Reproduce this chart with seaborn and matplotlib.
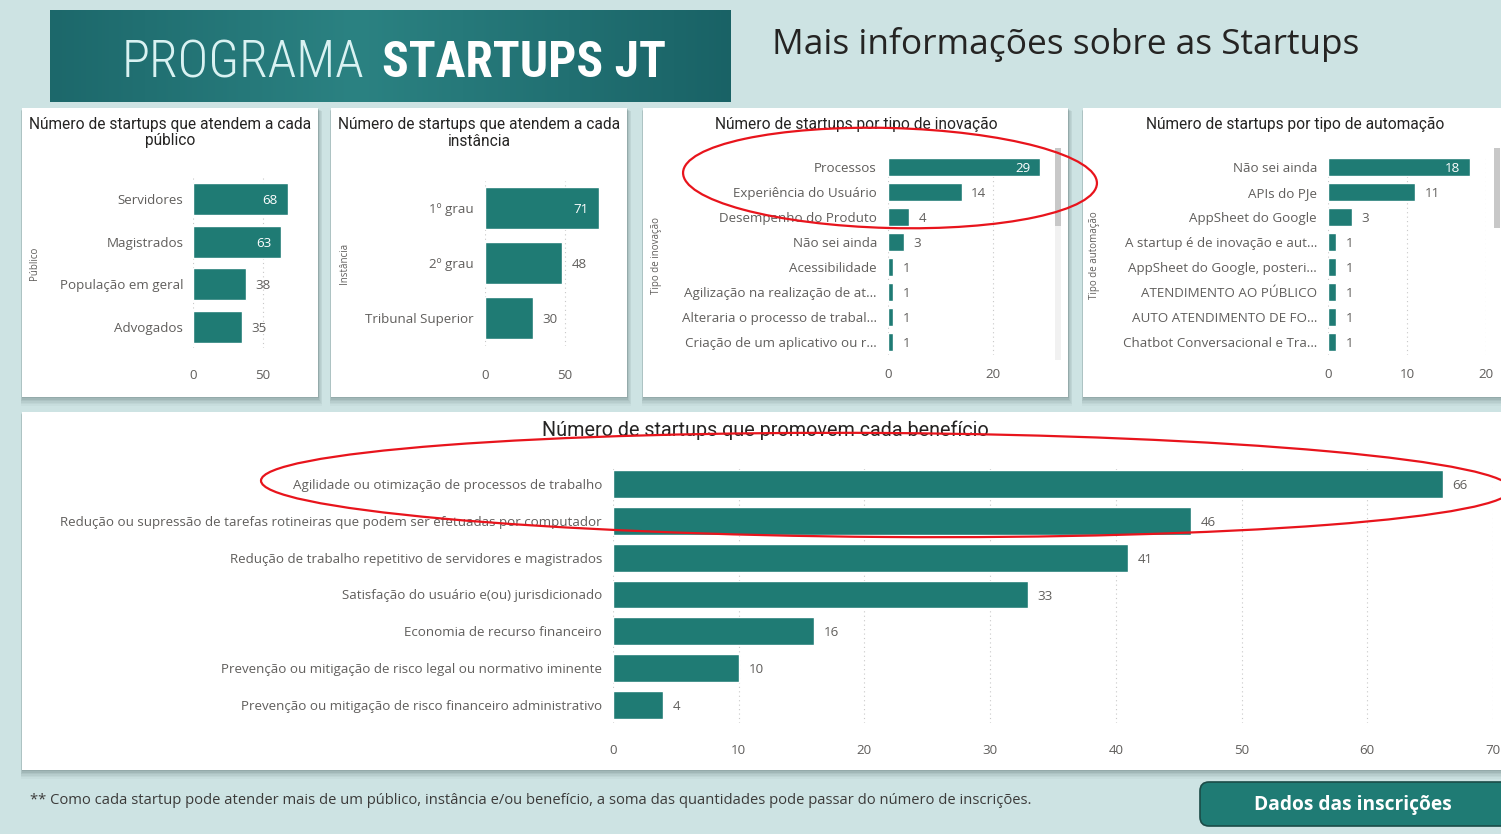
import numpy as np
import pandas as pd
import matplotlib
matplotlib.use("Agg")
import matplotlib.pyplot as plt
import seaborn as sns
from matplotlib.transforms import Affine2D
from matplotlib.patches import Rectangle, Ellipse, FancyBboxPatch
from matplotlib import font_manager

# ---------------- data ----------------
publico_cats = ["Servidores", "Magistrados", "População em geral", "Advogados"]
publico_vals = [68, 63, 38, 35]

instancia_cats = ["1º grau", "2º grau", "Tribunal Superior"]
instancia_vals = [71, 48, 30]

inovacao_cats = ["Processos", "Experiência do Usuário", "Desempenho do Produto",
                 "Não sei ainda", "Acessibilidade", "Agilização na realização de at…",
                 "Alteraria o processo de trabal…", "Criação de um aplicativo ou r…"]
inovacao_vals = [29, 14, 4, 3, 1, 1, 1, 1]

automacao_cats = ["Não sei ainda", "APIs do PJe", "AppSheet do Google",
                  "A startup é de inovação e aut…", "AppSheet do Google, posteri…",
                  "ATENDIMENTO AO PÚBLICO", "AUTO ATENDIMENTO DE FO…",
                  "Chatbot Conversacional e Tra…"]
automacao_vals = [18, 11, 3, 1, 1, 1, 1, 1]

beneficio_cats = ["Agilidade ou otimização de processos de trabalho",
                  "Redução ou supressão de tarefas rotineiras que podem ser efetuadas por computador",
                  "Redução de trabalho repetitivo de servidores e magistrados",
                  "Satisfação do usuário e(ou) jurisdicionado",
                  "Economia de recurso financeiro",
                  "Prevenção ou mitigação de risco legal ou normativo iminente",
                  "Prevenção ou mitigação de risco financeiro administrativo"]
beneficio_vals = [66, 46, 41, 33, 16, 10, 4]

# ---------------- style ----------------
sns.set_theme(style="white")
names = {f.name for f in font_manager.fontManager.ttflist}
BODY = "Open Sans" if "Open Sans" in names else "DejaVu Sans"
TITLEF = "Roboto" if "Roboto" in names else BODY
NARROW = next((n for n in ["Liberation Sans Narrow", "DejaVu Sans Condensed", "Roboto Condensed"]
               if n in names), "DejaVu Sans")
plt.rcParams["font.family"] = [BODY, "DejaVu Sans"]

BG = "#cde3e3"
TEAL = "#1f7b74"
GREY = "#605e5c"
DARK = "#252423"
FS = 9.6

W, H = 1501, 834
fig = plt.figure(figsize=(W / 100, H / 100), dpi=100, facecolor=BG)
PX = Affine2D().scale(1 / W, -1 / H).translate(0, 1) + fig.transFigure


def add_ax(x0, y0, x1, y1):
    ax = fig.add_axes([x0 / W, 1 - y1 / H, (x1 - x0) / W, (y1 - y0) / H])
    ax.set_facecolor("none")
    ax.set_zorder(2)
    return ax


def panel(x0, y0, x1, y1):
    for k, a in zip(range(6, 0, -1), [0.04, 0.05, 0.06, 0.08, 0.10, 0.12]):
        fig.add_artist(Rectangle((x0 - k * 0.2, y0 + k * 0.5), x1 - x0 + k * 0.9, y1 - y0 + k * 1.0,
                                 transform=PX, facecolor="#3a5252", alpha=a, lw=0, zorder=-6))
    fig.add_artist(Rectangle((x0, y0), x1 - x0, y1 - y0, transform=PX,
                             facecolor="white", lw=0, zorder=-5))


def bar_chart(ax, cats, vals, xmax, ticks, width, tickpad=20, labpad=8, fs=FS):
    df = pd.DataFrame({"cat": cats, "val": vals})
    sns.barplot(data=df, x="val", y="cat", orient="h", color=TEAL, saturation=1,
                width=width, ax=ax, zorder=3)
    ax.set_xlim(0, xmax)
    ax.set_ylim(len(cats) - 0.5, -0.5)
    ax.set_xticks(ticks)
    ax.set_xlabel("")
    ax.set_ylabel("")
    for s in ax.spines.values():
        s.set_visible(False)
    ax.tick_params(axis="both", length=0, labelsize=fs, labelcolor=GREY)
    ax.tick_params(axis="x", pad=tickpad)
    ax.tick_params(axis="y", pad=labpad)
    ax.grid(axis="x", linestyle=(0, (1, 3)), color="#c8c8c8", lw=0.8)
    ax.grid(axis="y", visible=False)
    ax.set_axisbelow(True)
    # data labels: inside the bar end when there is no room on the right
    fig.canvas.draw()
    bb = ax.get_window_extent()
    pxu = bb.width / xmax
    for i, v in enumerate(vals):
        room = (xmax - v) * pxu
        if room < 26:
            ax.annotate(str(v), xy=(v, i), xytext=(-7, 0), textcoords="offset points",
                        ha="right", va="center_baseline", color="white", fontsize=fs, zorder=5)
        else:
            ax.annotate(str(v), xy=(v, i), xytext=(7, 0), textcoords="offset points",
                        ha="left", va="center_baseline", color=GREY, fontsize=fs, zorder=5)


fig.patches.append(Rectangle((0, 0), 1, 1, transform=fig.transFigure, facecolor=BG, lw=0, zorder=-10))

# ---------------- banner ----------------
bx = add_ax(50, 10, 731, 102)
grad = np.linspace(0, 1, 256)
grad = 1 - np.abs(grad - 0.45) * 1.6
bx.imshow(grad[None, :], aspect="auto", cmap=matplotlib.colors.LinearSegmentedColormap.from_list(
    "b", ["#175e62", "#2b8282"]), extent=[0, 1, 0, 1], vmin=0, vmax=1)
bx.set_axis_off()


def fit_text(x, y, s, target_w, **kw):
    t = fig.text(x, y, s, transform=PX, **kw)
    fig.canvas.draw()
    w = t.get_window_extent().width
    t.set_fontsize(t.get_fontsize() * target_w / w)
    return t


fit_text(122, 77, "PROGRAMA", 243, fontsize=50, family=NARROW, fontweight="light",
         color="#d9f2f2", ha="left", va="baseline", zorder=5)
fit_text(382, 77, "STARTUPS JT", 284, fontsize=50, family=NARROW, fontweight="bold",
         color="white", ha="left", va="baseline", zorder=5)

fit_text(772, 45, "Mais informações sobre as Startups", 588, fontsize=22, family=BODY,
         color=DARK, ha="left", va="center")

# ---------------- panels ----------------
panel(22, 108, 318, 397)
panel(331, 108, 627, 397)
panel(643, 108, 1068, 397)
panel(1083, 108, 1510, 397)
panel(22, 412, 1510, 770)

# panel titles
TFS = 11.2
fig.text(170, 124, "Número de startups que atendem a cada", transform=PX, ha="center", va="center",
         fontsize=TFS, color=DARK, family=TITLEF)
fig.text(170, 141, "público", transform=PX, ha="center", va="center", fontsize=TFS, color=DARK,
         family=TITLEF)
fig.text(479, 124, "Número de startups que atendem a cada", transform=PX, ha="center", va="center",
         fontsize=TFS, color=DARK, family=TITLEF)
fig.text(479, 141, "instância", transform=PX, ha="center", va="center", fontsize=TFS, color=DARK,
         family=TITLEF)
fig.text(856, 124, "Número de startups por tipo de inovação", transform=PX, ha="center",
         va="center", fontsize=TFS, color=DARK, family=TITLEF)
fig.text(1295, 124, "Número de startups por tipo de automação", transform=PX, ha="center",
         va="center", fontsize=TFS, color=DARK, family=TITLEF)
fig.text(765, 430, "Número de startups que promovem cada benefício", transform=PX, ha="center",
         va="center", fontsize=14.2, color=DARK, family=TITLEF)

# charts
ax1 = add_ax(193, 177.7, 299, 348.3)
bar_chart(ax1, publico_cats, publico_vals, 76, [0, 50], 0.75, tickpad=15, labpad=7)
ax2 = add_ax(485, 180.5, 605, 345.5)
bar_chart(ax2, instancia_cats, instancia_vals, 75, [0, 50], 0.75, tickpad=17, labpad=8)
ax3 = add_ax(888, 154.5, 1050.75, 354.5)
bar_chart(ax3, inovacao_cats, inovacao_vals, 31, [0, 20], 0.72, tickpad=9.5, labpad=8)
ax4 = add_ax(1328, 154.5, 1486, 354.5)
bar_chart(ax4, automacao_cats, automacao_vals, 20, [0, 10, 20], 0.72, tickpad=9.5, labpad=8)
ax5 = add_ax(613, 465.6, 1493, 723.4)
bar_chart(ax5, beneficio_cats, beneficio_vals, 70, list(range(0, 71, 10)), 0.76, tickpad=14.5,
          labpad=8)

# axis titles (rotated)
for x, y, s in [(35, 263, "Público"), (344, 263, "Instância"), (656, 255, "Tipo de inovação"),
                (1095, 255, "Tipo de automação")]:
    fig.text(x, y, s, transform=PX, rotation=90, ha="center", va="center", fontsize=7,
             color=GREY)

# scrollbars
fig.add_artist(Rectangle((1055, 148), 6, 212, transform=PX, facecolor="#f1f1f1", lw=0, zorder=3))
fig.add_artist(Rectangle((1055, 148), 6, 78, transform=PX, facecolor="#c8c8c8", lw=0, zorder=3))
fig.add_artist(Rectangle((1494, 148), 6, 80, transform=PX, facecolor="#c8c8c8", lw=0, zorder=3))

# red annotation ellipses
fig.add_artist(Ellipse((890, 178), 414, 100, angle=1.5, transform=PX, fill=False,
                       edgecolor="#e8141c", lw=1.6, zorder=10))
fig.add_artist(Ellipse((886, 485), 1250, 104, angle=0.4, transform=PX, fill=False,
                       edgecolor="#e8141c", lw=1.6, zorder=10))

# footer
fit_text(30, 801, "** Como cada startup pode atender mais de um público, instância e/ou benefício, "
         "a soma das quantidades pode passar do número de inscrições.", 1005,
         ha="left", va="center", fontsize=9, color="#3b3a39")

# button
fig.add_artist(FancyBboxPatch((1200, 782), 320, 44, boxstyle="round,pad=0,rounding_size=9",
                              transform=PX, facecolor=TEAL, edgecolor="#1b4b47", lw=1.2, zorder=3))
fig.text(1353, 805, "Dados das inscrições", transform=PX, ha="center", va="center",
         fontsize=13.8, fontweight="bold", color="white", zorder=4)

fig.savefig("out.png", dpi=100, facecolor=BG)
